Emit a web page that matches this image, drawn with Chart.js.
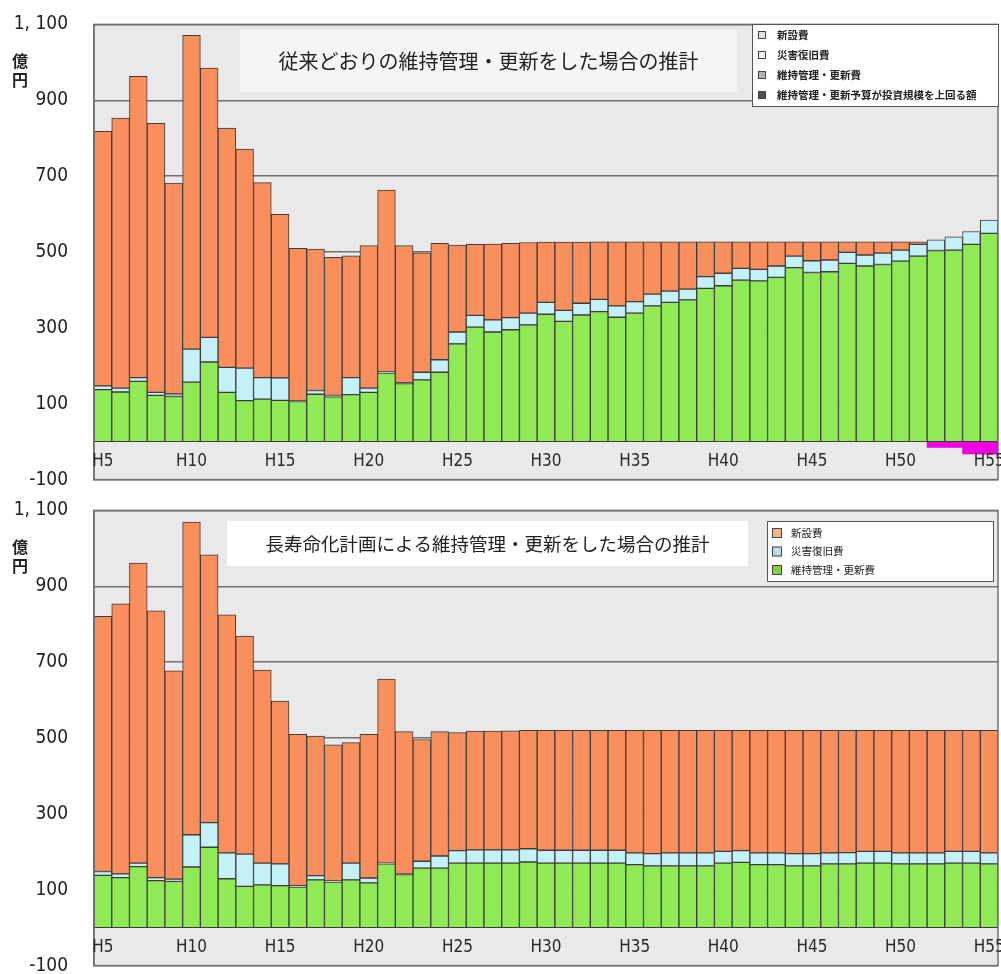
<!DOCTYPE html>
<html lang="ja">
<head>
<meta charset="UTF-8">
<title>維持管理・更新費の推計</title>
<script src="https://cdn.jsdelivr.net/npm/chart.js@4.4.1/dist/chart.umd.min.js"></script>
<style>
  html, body { margin: 0; padding: 0; background: #fff; overflow: hidden; }
  .panel { position: absolute; left: 0; width: 1001px; height: 530px; }
  #panel-top { top: -13px; }
  #panel-bottom { top: 473px; }
</style>
</head>
<body>
<div class="panel" id="panel-top"><canvas id="chart-top" width="1001" height="530"></canvas></div>
<div class="panel" id="panel-bottom"><canvas id="chart-bottom" width="1001" height="530"></canvas></div>
<script>
// Data
const YEARS = [
  "H5", "H6", "H7", "H8", "H9", "H10", "H11", "H12", "H13", "H14",
  "H15", "H16", "H17", "H18", "H19", "H20", "H21", "H22", "H23", "H24",
  "H25", "H26", "H27", "H28", "H29", "H30", "H31", "H32", "H33", "H34",
  "H35", "H36", "H37", "H38", "H39", "H40", "H41", "H42", "H43", "H44",
  "H45", "H46", "H47", "H48", "H49", "H50", "H51", "H52", "H53", "H54",
  "H55",
];
const X_TICK_LABELS = ["H5", "H10", "H15", "H20", "H25", "H30", "H35", "H40", "H45", "H50", "H55"];
const Y_TICKS = [-100, 100, 300, 500, 700, 900, 1100];

// 従来どおり (top)
const TOP_MAINT = [
  137, 131, 159, 122, 119, 157, 210, 130, 108, 112,
  109, 106, 125, 118, 124, 130, 181, 153, 163, 183,
  258, 302, 289, 295, 308, 336, 317, 334, 343, 328,
  339, 358, 367, 374, 404, 411, 426, 424, 433, 459,
  446, 448, 470, 463, 467, 476, 489, 504, 505, 520,
  549,
];
const TOP_DISASTER = [
  10, 10, 10, 8, 7, 87, 65, 66, 86, 57,
  59, 2, 10, 4, 45, 11, 3, 2, 20, 33,
  31, 31, 32, 32, 31, 31, 29, 31, 32, 30,
  30, 31, 30, 28, 31, 33, 31, 30, 30, 30,
  31, 31, 29, 29, 30, 29, 31, 28, 35, 34,
  35,
];
const TOP_NEW = [
  671, 712, 794, 709, 556, 827, 710, 631, 577, 514,
  431, 402, 373, 364, 321, 376, 479, 362, 315, 307,
  229, 187, 200, 196, 186, 159, 180, 161, 152, 169,
  158, 138, 130, 125, 92, 83, 70, 73, 64, 38,
  50, 48, 28, 35, 30, 22, 7, null, null, null,
  null,
];
const TOP_OVER = [
  null, null, null, null, null, null, null, null, null, null,
  null, null, null, null, null, null, null, null, null, null,
  null, null, null, null, null, null, null, null, null, null,
  null, null, null, null, null, null, null, null, null, null,
  null, null, null, null, null, null, null, -15, -15, -32,
  -33,
];

// 長寿命化計画 (bottom)
const BOTTOM_MAINT = [
  138, 132, 161, 124, 122, 160, 212, 129, 109, 113,
  111, 107, 126, 120, 126, 118, 168, 140, 157, 157,
  170, 170, 170, 170, 173, 170, 170, 170, 170, 170,
  166, 163, 163, 163, 163, 170, 172, 166, 166, 163,
  163, 168, 168, 170, 170, 168, 168, 168, 170, 170,
  168,
];
const BOTTOM_DISASTER = [
  10, 10, 9, 8, 6, 85, 65, 68, 85, 57,
  57, 4, 11, 3, 44, 13, 2, 2, 18, 32,
  33, 35, 35, 35, 35, 34, 34, 34, 34, 34,
  31, 32, 34, 34, 34, 31, 31, 31, 31, 32,
  32, 29, 30, 31, 31, 29, 29, 29, 31, 31,
  29,
];
const BOTTOM_NEW = [
  673, 712, 791, 703, 549, 824, 706, 628, 575, 509,
  429, 399, 368, 359, 318, 379, 485, 375, 321, 328,
  311, 313, 313, 314, 312, 316, 316, 316, 316, 316,
  323, 325, 323, 323, 323, 319, 317, 323, 323, 325,
  325, 323, 322, 319, 319, 323, 323, 323, 319, 319,
  323,
];

const LABEL_NEW = "新設費";
const LABEL_DISASTER = "災害復旧費";
const LABEL_MAINT = "維持管理・更新費";
const LABEL_OVER = "維持管理・更新予算が投資規模を上回る額";

// Styles
const COLOR_NEW = "#f98f5c";
const COLOR_DISASTER = "#c4f0f8";
const COLOR_MAINT = "#8fea55";
const COLOR_OVER = "#f000e0";
const BAR_BORDER = "#3c3c3c";
const GRID_COLOR = "#707070";
const PLOT_BG = "#e9e9e9";
const PLOT_LEFT = 94;
const NUM_FONT = "'Liberation Sans Narrow', 'DejaVu Sans Condensed', sans-serif";
const JP_FONT = "'Noto Sans CJK JP', sans-serif";

// Chart instances
let topChartInstance = null;
let bottomChartInstance = null;

function barDataset(label, data, color, border) {
  return {
    label,
    data,
    backgroundColor: color,
    borderColor: BAR_BORDER,
    borderWidth: border ? 1 : 0,
    borderSkipped: false,
    categoryPercentage: 1,
    barPercentage: 1,
  };
}

// Decoration plugin: plot background, frame, x labels, unit, title box, legend
// (cfg positions are page coordinates; cfg.offset is the canvas top on the page)
function panelDecor(cfg) {
  const dy = -cfg.offset;
  return {
    id: "panelDecor",
    beforeDraw(chart) {
      const { ctx, chartArea: a } = chart;
      ctx.save();
      ctx.fillStyle = PLOT_BG;
      ctx.fillRect(a.left, a.top, a.right - a.left, a.bottom - a.top);
      ctx.restore();
    },
    afterDatasetsDraw(chart) {
      const { ctx, chartArea: a, scales } = chart;
      ctx.save();

      // frame
      ctx.strokeStyle = GRID_COLOR;
      ctx.lineWidth = 1.5;
      ctx.strokeRect(a.left, a.top, a.right - a.left, a.bottom - a.top);

      // x labels sit inside the plot, below zero
      ctx.fillStyle = "#2a2a2a";
      ctx.font = `17px ${NUM_FONT}`;
      ctx.textAlign = "center";
      ctx.textBaseline = "middle";
      const yLab = scales.y.getPixelForValue(-52);
      X_TICK_LABELS.forEach((lab) => {
        const i = YEARS.indexOf(lab);
        ctx.fillText(lab, scales.x.getPixelForValue(i), yLab);
      });

      // unit
      ctx.fillStyle = "#222";
      ctx.font = `bold 16px ${JP_FONT}`;
      ctx.fillText("億", 20, cfg.unitY + dy);
      ctx.fillText("円", 20, cfg.unitY + 19 + dy);

      // title box
      const t = cfg.title;
      ctx.fillStyle = t.bg;
      ctx.fillRect(t.x, t.y + dy, t.w, t.h);
      ctx.fillStyle = "#222";
      ctx.font = `${t.size}px ${JP_FONT}`;
      ctx.fillText(t.text, t.x + t.w / 2, t.y + dy + t.h / 2);

      // legend
      const l = cfg.legend;
      const ly = l.y + dy;
      ctx.fillStyle = "#fff";
      ctx.fillRect(l.x, ly, l.w, l.h);
      ctx.strokeStyle = "#555";
      ctx.lineWidth = 1;
      ctx.strokeRect(l.x + 0.5, ly + 0.5, l.w, l.h);
      ctx.textAlign = "left";
      ctx.font = `${l.bold ? "bold " : ""}${l.size}px ${JP_FONT}`;
      l.items.forEach((item, i) => {
        const cy = ly + l.first + i * l.step;
        ctx.fillStyle = item.color;
        ctx.fillRect(l.x + l.box0, cy - l.box / 2, l.box, l.box);
        ctx.strokeStyle = "#444";
        ctx.strokeRect(l.x + l.box0 + 0.5, cy - l.box / 2 + 0.5, l.box - 1, l.box - 1);
        ctx.fillStyle = "#222";
        ctx.fillText(item.label, l.x + l.text0, cy);
      });
      ctx.restore();
    },
  };
}

function getOptions() {
  return {
    responsive: false,
    animation: false,
    layout: { padding: { top: 0, bottom: 0, right: 3, left: 0 } },
    plugins: { legend: { display: false }, tooltip: { enabled: false } },
    scales: {
      x: { stacked: true, display: false },
      y: {
        stacked: true,
        min: -100,
        max: 1100,
        afterBuildTicks: (scale) => {
          scale.ticks = Y_TICKS.map((v) => ({ value: v }));
        },
        afterFit: (scale) => {
          scale.width = PLOT_LEFT;
        },
        grid: { color: GRID_COLOR, lineWidth: 1.5, drawTicks: false },
        border: { display: true, color: GRID_COLOR, width: 1.5 },
        ticks: {
          padding: 26,
          color: "#222",
          font: { family: NUM_FONT, size: 19 },
          callback: (v) => (v === 1100 ? "1, 100" : String(v)),
        },
      },
    },
  };
}

function renderTopChart() {
  const ctx = document.getElementById("chart-top").getContext("2d");
  topChartInstance = new Chart(ctx, {
    type: "bar",
    data: {
      labels: YEARS,
      datasets: [
        barDataset(LABEL_MAINT, TOP_MAINT, COLOR_MAINT, true),
        barDataset(LABEL_DISASTER, TOP_DISASTER, COLOR_DISASTER, true),
        barDataset(LABEL_NEW, TOP_NEW, COLOR_NEW, true),
        barDataset(LABEL_OVER, TOP_OVER, COLOR_OVER, false),
      ],
    },
    options: getOptions(),
    plugins: [
      panelDecor({
        offset: -13,
        unitY: 61,
        title: {
          text: "従来どおりの維持管理・更新をした場合の推計",
          x: 240, y: 30, w: 497, h: 62, size: 20, bg: "rgba(255,255,255,0.55)",
        },
        legend: {
          x: 752, y: 24, w: 246, h: 82, size: 10.5, bold: true,
          first: 11, step: 20, box: 8, box0: 6, text0: 25,
          items: [
            { label: LABEL_NEW, color: "#e2e2e2" },
            { label: LABEL_DISASTER, color: "#f0f0f0" },
            { label: LABEL_MAINT, color: "#b4b4b4" },
            { label: LABEL_OVER, color: "#505050" },
          ],
        },
      }),
    ],
  });
}

function renderBottomChart() {
  const ctx = document.getElementById("chart-bottom").getContext("2d");
  bottomChartInstance = new Chart(ctx, {
    type: "bar",
    data: {
      labels: YEARS,
      datasets: [
        barDataset(LABEL_MAINT, BOTTOM_MAINT, COLOR_MAINT, true),
        barDataset(LABEL_DISASTER, BOTTOM_DISASTER, COLOR_DISASTER, true),
        barDataset(LABEL_NEW, BOTTOM_NEW, COLOR_NEW, true),
      ],
    },
    options: getOptions(),
    plugins: [
      panelDecor({
        offset: 473,
        unitY: 547,
        title: {
          text: "長寿命化計画による維持管理・更新をした場合の推計",
          x: 227, y: 521, w: 521, h: 45, size: 18.5, bg: "#ffffff",
        },
        legend: {
          x: 767, y: 521, w: 226, h: 60, size: 10.5, bold: false,
          first: 12, step: 18.5, box: 10, box0: 5, text0: 24,
          items: [
            { label: LABEL_NEW, color: "#f8b088" },
            { label: LABEL_DISASTER, color: "#b8dde8" },
            { label: LABEL_MAINT, color: "#88cc44" },
          ],
        },
      }),
    ],
  });
}

renderTopChart();
renderBottomChart();
</script>
</body>
</html>
